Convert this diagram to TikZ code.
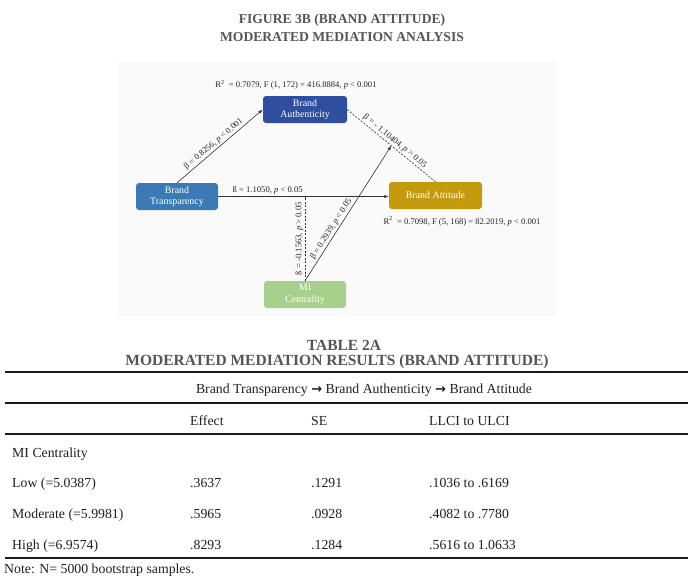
\documentclass[tikz,border=0pt]{standalone}
\usepackage{fontspec}
\setmainfont{Liberation Serif}
\newfontfamily\arrowfont{DejaVu Sans}
\usetikzlibrary{arrows.meta}
\definecolor{authc}{HTML}{2E4F9F}
\definecolor{transc}{HTML}{3A7BB6}
\definecolor{attc}{HTML}{C39A0E}
\definecolor{mic}{HTML}{A8D08D}
\definecolor{ttlc}{HTML}{555555}
\definecolor{linec}{HTML}{333333}
\tikzset{
  ttl/.style={font=\fontsize{13.6}{14}\selectfont\bfseries, text=ttlc, inner sep=0pt},
  ttlb/.style={font=\fontsize{15.5}{16}\selectfont\bfseries, text=ttlc, inner sep=0pt},
  box/.style={rounded corners=3pt, minimum height=27pt, text=white, align=center,
              font=\fontsize{9.9}{11.5}\selectfont, inner sep=1pt},
  lbl/.style={font=\fontsize{8.6}{9}\selectfont, text=black!85, inner sep=1.5pt},
  conn/.style={draw=linec, line width=0.6pt},
  arr/.style={conn, -{Latex[length=4.5pt,width=3.2pt]}},
  dsh/.style={conn, dashed, dash pattern=on 2pt off 1.5pt},
  tb/.style={font=\fontsize{13.8}{15}\selectfont, text=black!88, anchor=base west, inner sep=0pt},
  rule/.style={draw=black!90, line width=1.8pt}
}
\newcommand{\hdarrow}{{\fontsize{13}{14}\arrowfont\bfseries →}}
\begin{document}
\begin{tikzpicture}[x=1pt,y=-1pt]
\useasboundingbox (0,0) rectangle (688,579);
% titles
\node[ttl] (t1) at (342,20) {FIGURE 3B (BRAND ATTITUDE)};
\node[ttl] (t2) at (342,37) {MODERATED MEDIATION ANALYSIS};
% faint panel
\fill[black!2] (118,62) rectangle (556,316);
% nodes
\node[box, fill=authc, minimum width=84pt] (auth) at (305,109.5) {Brand\\Authenticity};
\node[box, fill=transc, minimum width=82pt] (trans) at (177,196.5) {Brand\\Transparency};
\node[box, fill=attc, minimum width=93pt] (att) at (435.5,195.5) {Brand Attitude};
\node[box, fill=mic, minimum width=82pt] (mi) at (305,294.5) {MI\\Centrality};
% R2 labels
\node[lbl] (r1) at (296,85) {R\textsuperscript{2}\ \ = 0.7079, F (1, 172) = 416.8884, \textit{p} < 0.001};
\node[lbl] (r2) at (462,221.5) {R\textsuperscript{2}\ \ = 0.7098, F (5, 168) = 82.2019, \textit{p} < 0.001};
% connectors
\draw[arr] (trans.north) -- node[lbl, sloped, above, pos=0.47] {β = 0.8256, \textit{p} < 0.001} (auth.west);
\draw[arr] (trans.east) -- node[lbl, above, pos=0.29] {ß = 1.1050, \textit{p} < 0.05} (trans.east -| att.west);
\draw[dsh] (auth.east) -- coordinate[pos=0.5] (mid) node[lbl, sloped, above, pos=0.5] {β = - 1.10404, \textit{p} > 0.05} (att.north);
\draw[arr] (mi.north) -- node[lbl, sloped, above, pos=0.36] {β = 0.2939, \textit{p} < 0.05} (mid);
\draw[dsh] (mi.north) -- node[lbl, sloped, above, pos=0.5] {ß = -0.1563, \textit{p} > 0.05} (mi.north |- trans.east);
% table
\node[ttlb] (t3) at (344,345) {TABLE 2A};
\node[ttlb] (t4) at (337,362) {MODERATED MEDIATION RESULTS (BRAND ATTITUDE)};
\coordinate (l1a) at (5,372); \coordinate (l1b) at (688,372);
\coordinate (l2a) at (5,403); \coordinate (l2b) at (688,403);
\coordinate (l3a) at (5,434); \coordinate (l3b) at (688,434);
\coordinate (l4a) at (5,558); \coordinate (l4b) at (688,558);
\draw[rule] (l1a) -- (l1b);
\draw[rule] (l2a) -- (l2b);
\draw[rule] (l3a) -- (l3b);
\draw[rule] (l4a) -- (l4b);
\node[tb, anchor=base] (hd) at (364,393) {Brand Transparency \hdarrow{} Brand Authenticity \hdarrow{} Brand Attitude};
\node[tb] (h1) at (190,425) {Effect};
\node[tb] (h2) at (311,425) {SE};
\node[tb] (h3) at (429,425) {LLCI to ULCI};
\node[tb] (c0) at (12,457) {MI Centrality};
\node[tb] (c1) at (12,487.5) {Low (=5.0387)};
\node[tb] (e1) at (190,487.5) {.3637};
\node[tb] (s1) at (311,487.5) {.1291};
\node[tb] (i1) at (429,487.5) {.1036 to .6169};
\node[tb] (c2) at (12,518) {Moderate (=5.9981)};
\node[tb] (e2) at (190,518) {.5965};
\node[tb] (s2) at (311,518) {.0928};
\node[tb] (i2) at (429,518) {.4082 to .7780};
\node[tb] (c3) at (12,549) {High (=6.9574)};
\node[tb] (e3) at (190,549) {.8293};
\node[tb] (s3) at (311,549) {.1284};
\node[tb] (i3) at (429,549) {.5616 to 1.0633};
\node[tb] (nt) at (4,573) {Note: N= 5000 bootstrap samples.};
\end{tikzpicture}
\end{document}
